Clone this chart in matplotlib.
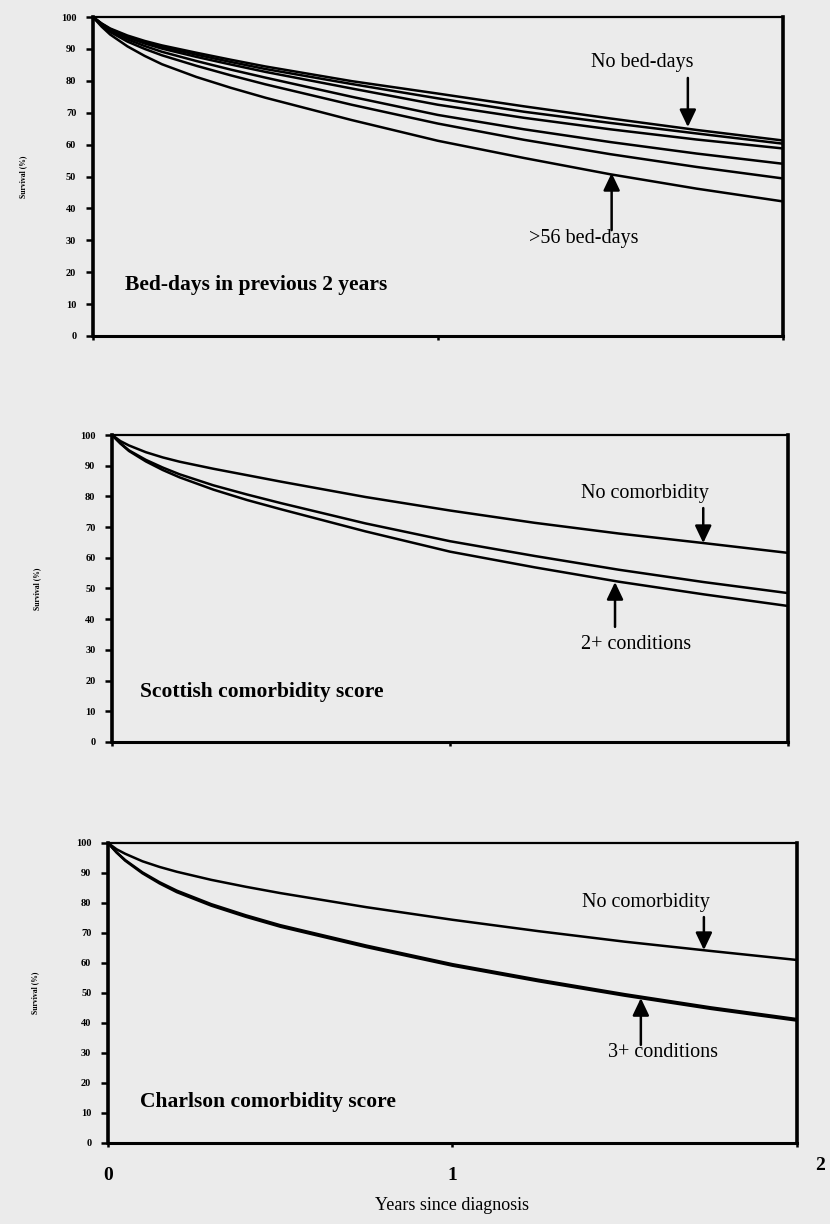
"""Survival by bed-days and comorbidity scores, three stacked panels."""

import matplotlib

matplotlib.use("Agg")
import matplotlib.pyplot as plt
from matplotlib.transforms import ScaledTranslation

years = [0, 0.025, 0.05, 0.1, 0.15, 0.2, 0.3, 0.4, 0.5, 0.75, 1.0, 1.25, 1.5, 1.75, 2.0]

# panel 1: bed-days in previous 2 years (top = no bed-days, bottom = >56)
bed_days_none = [100, 98, 96.4, 94.2, 92.5, 91.1, 88.8, 86.6, 84.5, 79.9, 76, 72, 68.2, 64.6, 61.3]
bed_days_2 = [100, 97.9, 96.2, 93.9, 92.1, 90.6, 88.2, 85.9, 83.7, 79, 74.5, 70.3, 66.8, 63.5, 60.3]
bed_days_3 = [100, 97.8, 96, 93.6, 91.7, 90.1, 87.5, 85.1, 82.8, 77.6, 72.5, 68.4, 64.8, 61.6, 58.8]
bed_days_4 = [100, 97.6, 95.7, 93, 90.9, 89.1, 86.2, 83.5, 81, 75, 69.3, 64.8, 60.8, 57.2, 54]
bed_days_5 = [100, 97.4, 95.3, 92.3, 90, 88, 84.7, 81.7, 78.9, 72.5, 66.6, 61.5, 57, 53, 49.4]
bed_days_56 = [100, 97, 94.5, 90.8, 87.8, 85.2, 81.2, 77.8, 74.7, 67.7, 61.2, 55.8, 50.7, 46.2, 42.2]

# panel 2: Scottish comorbidity score
scot_none = [100, 98, 96.6, 94.4, 92.7, 91.3, 89.0, 86.9, 84.8, 79.8, 75.4, 71.4, 67.9, 64.8, 61.6]
scot_one = [100, 97.3, 95, 91.9, 89.4, 87.2, 83.6, 80.6, 77.8, 71.2, 65.4, 60.6, 56.1, 52.1, 48.5]
scot_two_plus = [100, 97.2, 94.8, 91.4, 88.6, 86.2, 82.2, 78.8, 75.8, 68.6, 62, 56.9, 52.2, 48.1, 44.3]

# panel 3: Charlson comorbidity score
charl_none = [100, 97.9, 96.4, 93.9, 92, 90.4, 87.7, 85.4, 83.3, 78.6, 74.4, 70.6, 67.1, 64, 61]
charl_mid = [100, 96.9, 94.3, 90.2, 86.9, 84.1, 79.6, 75.9, 72.6, 65.8, 59.6, 54.4, 49.6, 45.2, 41.3]
charl_three_plus = [100, 96.8, 94.1, 89.9, 86.5, 83.6, 79.1, 75.4, 72.1, 65.3, 59.1, 53.9, 49.1, 44.7, 40.8]

y_ticks = [0, 10, 20, 30, 40, 50, 60, 70, 80, 90, 100]
x_ticks = [0, 1, 2]

BG = "#ebebeb"
SERIF = ["Liberation Serif", "DejaVu Serif"]

plt.rcParams["font.family"] = SERIF

fig = plt.figure(figsize=(8.3, 12.24), dpi=100, facecolor=BG)

panels = [
    {
        "rect": [0.112, 0.7255, 0.831, 0.2606],
        "curves": [bed_days_none, bed_days_2, bed_days_3, bed_days_4, bed_days_5, bed_days_56],
        "title": ("Bed-days in previous 2 years", 0.093, 16),
        "upper": ("No bed-days", 1.594, 85.6, 1.725, 80.9, 65.5),
        "lower": (">56 bed-days", 1.423, 30.7, 1.504, 33.2, 51.1),
        "ylabel_x": -0.095,
    },
    {
        "rect": [0.135, 0.3938, 0.8145, 0.2508],
        "curves": [scot_none, scot_one, scot_two_plus],
        "title": ("Scottish comorbidity score", 0.083, 16.3),
        "upper": ("No comorbidity", 1.577, 81.1, 1.749, 76.2, 64.8),
        "lower": ("2+ conditions", 1.55, 31.6, 1.488, 37.5, 52.1),
        "ylabel_x": -0.105,
    },
    {
        "rect": [0.1301, 0.0662, 0.830, 0.2451],
        "curves": [charl_none, charl_mid, charl_three_plus],
        "title": ("Charlson comorbidity score", 0.093, 13.7),
        "upper": ("No comorbidity", 1.562, 80.3, 1.73, 75.3, 64.3),
        "lower": ("3+ conditions", 1.611, 30, 1.547, 32.7, 48.3),
        "ylabel_x": -0.1,
    },
]

axes = []
for index, panel in enumerate(panels):
    ax = fig.add_axes(panel["rect"])
    ax.set_facecolor(BG)
    for values in panel["curves"]:
        ax.plot(years, values, color="black", lw=1.8, solid_joinstyle="round")

    ax.set_xlim(0, 2)
    ax.set_ylim(0, 100)
    ax.set_yticks(y_ticks)
    ax.set_yticklabels([str(v) for v in y_ticks], fontsize=7.5, fontweight="bold")
    ax.set_xticks(x_ticks)
    ax.tick_params(axis="y", direction="out", length=5, width=1.8, pad=7)
    ax.tick_params(axis="x", direction="out", length=3, width=1.8)
    for side in ["left", "right"]:
        ax.spines[side].set_linewidth(2.6)
    ax.spines["bottom"].set_linewidth(2.2)
    ax.spines["top"].set_linewidth(1.6)

    ax.set_ylabel("Survival (%)", fontsize=5.5, fontweight="bold")
    ax.yaxis.set_label_coords(panel["ylabel_x"], 0.5)

    title, tx, ty = panel["title"]
    ax.text(tx, ty, title, fontsize=15.5, fontweight="bold", va="center", ha="left")

    for key in ["upper", "lower"]:
        label, lx, ly, ax_x, tail_y, tip_y = panel[key]
        ax.text(lx, ly, label, fontsize=14.5, ha="center", va="center")
        ax.annotate(
            "",
            xy=(ax_x, tip_y),
            xytext=(ax_x, tail_y),
            arrowprops=dict(arrowstyle="-|>,head_length=1.05,head_width=0.5",
                            color="black", lw=1.8, shrinkA=0, shrinkB=0),
        )

    if index < 2:
        ax.set_xticklabels([])
    axes.append(ax)

bottom = axes[-1]
bottom.set_xticklabels([str(v) for v in x_ticks], fontsize=14, fontweight="bold")
bottom.tick_params(axis="x", pad=14)
last = bottom.get_xticklabels()[2]
last.set_transform(last.get_transform() + ScaledTranslation(0.23, 0.1, fig.dpi_scale_trans))
bottom.set_xlabel("Years since diagnosis", fontsize=13, labelpad=10)

fig.savefig("out.png", dpi=100, facecolor=BG)
